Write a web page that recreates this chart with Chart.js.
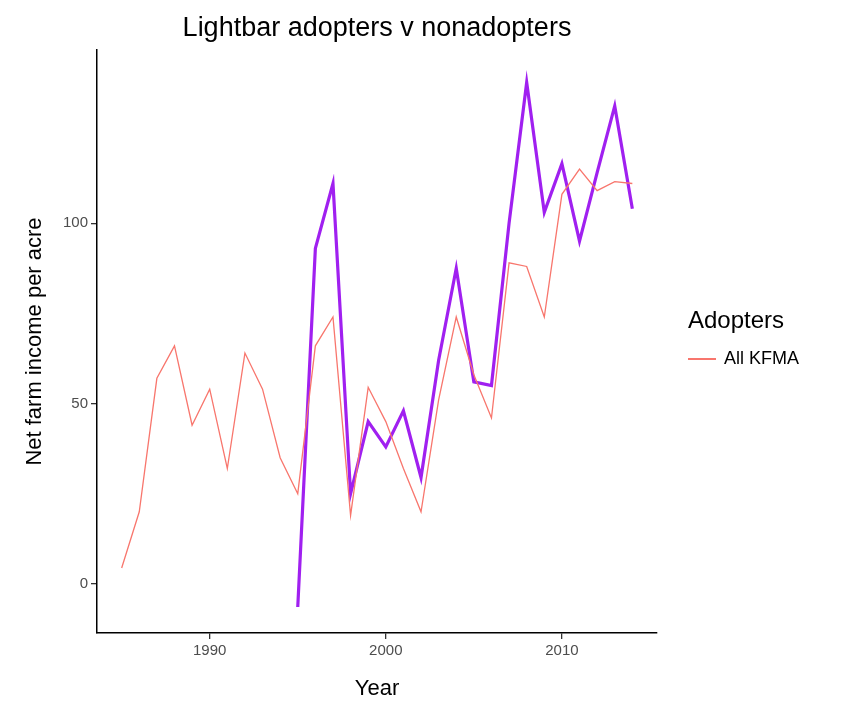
<!DOCTYPE html>
<html>
<head>
<meta charset="utf-8">
<script src="https://cdn.jsdelivr.net/npm/chart.js@4"></script>
<style>
  body { margin: 0; background: #fff; font-family: "Liberation Sans", Arial, sans-serif; }
  #wrap { position: relative; width: 843px; height: 706px; }
  #title { position: absolute; left: 97px; width: 560px; top: 12px; text-align: center; font-size: 27px; color: #000; }
  #legend { position: absolute; left: 688px; top: 306px; color: #000; }
  #legend .t { font-size: 24px; }
  #legend .row { font-size: 18px; margin-top: 14px; display: flex; align-items: center; }
  #legend .sw { width: 28px; height: 2px; background: #f8766d; margin-right: 8px; }
</style>
</head>
<body>
<div id="wrap">
  <canvas id="c" width="843" height="706"></canvas>
  <div id="title">Lightbar adopters v nonadopters</div>
  <div id="legend"><div class="t">Adopters</div><div class="row"><span class="sw"></span>All KFMA</div></div>
</div>
<script>
const kfmaYears = [1985,1986,1987,1988,1989,1990,1991,1992,1993,1994,1995,1996,1997,1998,1999,2000,2001,2002,2003,2004,2005,2006,2007,2008,2009,2010,2011,2012,2013,2014];
const kfmaValues = [4.4,20,57,66,44,54,32,64,54,35,25,66,74,19,54.5,45,32,20,51,74,58,46,89,88,74,108,115,109,111.5,111];
const adopterYears = [1995,1996,1997,1998,1999,2000,2001,2002,2003,2004,2005,2006,2007,2008,2009,2010,2011,2012,2013,2014];
const adopterValues = [-6.4,93,111,25,45,38,48,29.5,62,87.5,56,55,100,139,103,116.5,95,114,132.5,104];
const xTicks = [1990, 2000, 2010];
const yTicks = [0, 50, 100];

const toPts = (xs, ys) => xs.map((x, i) => ({x: x, y: ys[i]}));
const tickFont = { size: 15, family: 'Liberation Sans' };

new Chart(document.getElementById('c'), {
  type: 'line',
  data: {
    datasets: [
      { label: 'All KFMA', data: toPts(kfmaYears, kfmaValues), borderColor: '#f8766d', borderWidth: 1.3, pointRadius: 0, tension: 0 },
      { label: 'Lightbar', data: toPts(adopterYears, adopterValues), borderColor: '#a020f0', borderWidth: 3.2, pointRadius: 0, tension: 0 }
    ]
  },
  options: {
    responsive: false,
    animation: false,
    layout: { padding: { top: 50, right: 186, left: 18, bottom: 0 } },
    plugins: { legend: { display: false }, tooltip: { enabled: false } },
    scales: {
      x: {
        type: 'linear', min: 1983.6, max: 2015.4,
        afterBuildTicks: s => { s.ticks = xTicks.map(v => ({value: v})); },
        afterFit: s => { s.height = 73; },
        grid: { display: true, drawOnChartArea: false, tickLength: 6, color: '#333', lineWidth: 1.3 },
        border: { color: '#000', width: 1.5 },
        ticks: { color: '#4d4d4d', font: tickFont, padding: 3, callback: v => String(v) },
        title: { display: true, text: 'Year', color: '#000', font: { size: 22, family: 'Liberation Sans' }, padding: { top: 4 } }
      },
      y: {
        min: -13.6, max: 148,
        afterBuildTicks: s => { s.ticks = yTicks.map(v => ({value: v})); },
        afterFit: s => { s.width = 79; },
        grid: { display: true, drawOnChartArea: false, tickLength: 6, color: '#333', lineWidth: 1.3 },
        border: { color: '#000', width: 1.5 },
        ticks: { color: '#4d4d4d', font: tickFont, padding: 3, callback: v => String(v) },
        title: { display: true, text: 'Net farm income per acre', color: '#000', font: { size: 22, family: 'Liberation Sans' }, padding: { bottom: 4 } }
      }
    }
  }
});
</script>
</body>
</html>
